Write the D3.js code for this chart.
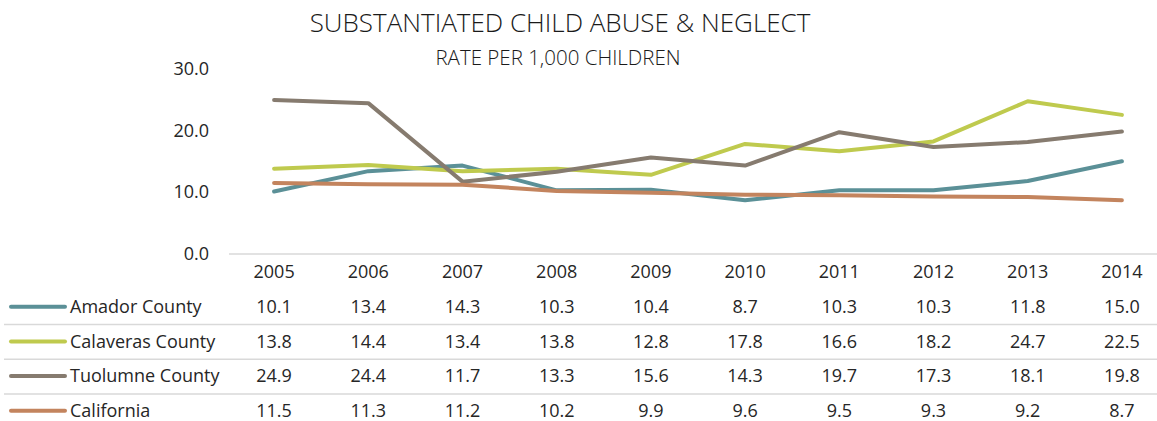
<!DOCTYPE html>
<html>
<head>
<meta charset="utf-8">
<script src="https://cdn.jsdelivr.net/npm/d3@7"></script>
<style>
  html, body { margin: 0; padding: 0; background: #fff; }
  svg { display: block; font-family: "Open Sans", sans-serif; }
</style>
</head>
<body>
<svg id="chart" width="1157" height="421"></svg>
<script>
// Substantiated child abuse & neglect, rate per 1,000 children
const years = ["2005", "2006", "2007", "2008", "2009", "2010", "2011", "2012", "2013", "2014"];
const seriesNames = ["Amador County", "Calaveras County", "Tuolumne County", "California"];
const amador    = [10.1, 13.4, 14.3, 10.3, 10.4, 8.7, 10.3, 10.3, 11.8, 15.0];
const calaveras = [13.8, 14.4, 13.4, 13.8, 12.8, 17.8, 16.6, 18.2, 24.7, 22.5];
const tuolumne  = [24.9, 24.4, 11.7, 13.3, 15.6, 14.3, 19.7, 17.3, 18.1, 19.8];
const california = [11.5, 11.3, 11.2, 10.2, 9.9, 9.6, 9.5, 9.3, 9.2, 8.7];
const yTicks = [0, 10, 20, 30];
const colors = ["#5b9097", "#bfca4e", "#867b6f", "#c3845e"];

const series = [amador, calaveras, tuolumne, california].map((values, i) => ({
  name: seriesNames[i], values, color: colors[i]
}));

const svg = d3.select("#chart");
const textColor = "#262626";
const fs = 18;

// Titles
svg.append("text")
  .attr("x", 560).attr("y", 32)
  .attr("text-anchor", "middle")
  .attr("font-size", 26).attr("font-weight", 300)
  .attr("fill", "#1a1a1a")
  .text("SUBSTANTIATED CHILD ABUSE & NEGLECT");
svg.append("text")
  .attr("x", 558).attr("y", 65)
  .attr("text-anchor", "middle")
  .attr("font-size", 20.5).attr("font-weight", 300)
  .attr("fill", "#1a1a1a")
  .text("RATE PER 1,000 CHILDREN");

// Scales
const x = d3.scaleBand().domain(years).range([227, 1169]).padding(0);
const cx = d => x(d) + x.bandwidth() / 2;
const y = d3.scaleLinear().domain([0, 30]).range([254, 68.5]);

// Y axis labels
const yAxis = d3.axisLeft(y).tickValues(yTicks).tickFormat(d3.format(".1f")).tickSize(0).tickPadding(0);
svg.append("g")
  .attr("transform", "translate(209,0)")
  .call(yAxis)
  .call(g => g.select(".domain").remove())
  .call(g => g.selectAll("text")
    .attr("font-size", fs).attr("fill", textColor)
    .attr("font-family", "Open Sans, sans-serif"));

// Baseline
svg.append("line")
  .attr("x1", 229).attr("x2", 1157)
  .attr("y1", y(0)).attr("y2", y(0))
  .attr("stroke", "#d9d9d9").attr("stroke-width", 1.5);

// Lines
const line = d3.line().x((d, i) => cx(years[i])).y(d => y(d));
svg.append("g").selectAll("path")
  .data(series)
  .join("path")
  .attr("d", d => line(d.values))
  .attr("fill", "none")
  .attr("stroke", d => d.color)
  .attr("stroke-width", 4)
  .attr("stroke-linejoin", "round")
  .attr("stroke-linecap", "round");

// Data table: year header
const rowY0 = 272, rowStep = 34.7;
svg.append("g").selectAll("text")
  .data(years)
  .join("text")
  .attr("x", d => cx(d))
  .attr("y", rowY0)
  .attr("dy", "0.35em")
  .attr("text-anchor", "middle")
  .attr("font-size", fs).attr("fill", textColor)
  .text(d => d);

// Row separators
svg.append("g").selectAll("line")
  .data(d3.range(1, series.length))
  .join("line")
  .attr("x1", 4).attr("x2", 1157)
  .attr("y1", i => rowY0 + rowStep * i + rowStep / 2 + 0.5)
  .attr("y2", i => rowY0 + rowStep * i + rowStep / 2 + 0.5)
  .attr("stroke", "#d9d9d9").attr("stroke-width", 1.5);

// Rows
const rows = svg.append("g").selectAll("g")
  .data(series)
  .join("g")
  .attr("transform", (d, i) => `translate(0,${rowY0 + rowStep * (i + 1)})`);

rows.append("line")
  .attr("x1", 11).attr("x2", 65)
  .attr("y1", 0).attr("y2", 0)
  .attr("stroke", d => d.color)
  .attr("stroke-width", 4)
  .attr("stroke-linecap", "round");

rows.append("text")
  .attr("x", 70).attr("dy", "0.35em")
  .attr("font-size", fs).attr("fill", textColor)
  .text(d => d.name);

rows.selectAll("text.val")
  .data(d => d.values)
  .join("text")
  .attr("class", "val")
  .attr("x", (d, i) => cx(years[i]))
  .attr("dy", "0.35em")
  .attr("text-anchor", "middle")
  .attr("font-size", fs).attr("fill", textColor)
  .text(d => d3.format(".1f")(d));
</script>
</body>
</html>
